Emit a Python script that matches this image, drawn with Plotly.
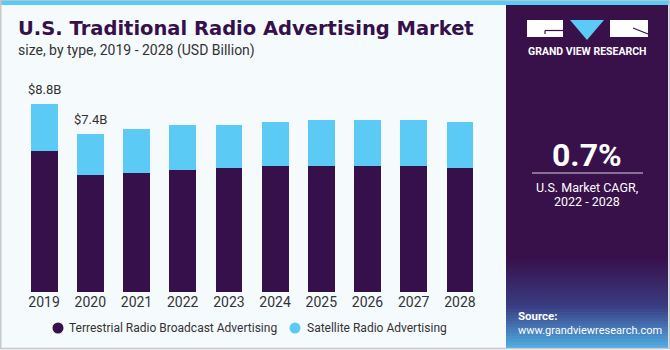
import plotly.graph_objects as go

years = ["2019", "2020", "2021", "2022", "2023", "2024", "2025", "2026", "2027", "2028"]
terrestrial = [6.61, 5.48, 5.57, 5.71, 5.81, 5.90, 5.90, 5.90, 5.90, 5.81]
satellite = [2.19, 1.92, 2.06, 2.11, 2.01, 2.04, 2.14, 2.14, 2.14, 2.13]
series_names = ["Terrestrial Radio Broadcast Advertising", "Satellite Radio Advertising"]
labels = {"2019": "$8.8B", "2020": "$7.4B"}

DARK = "#36104A"
BLUE = "#5BCBF5"
BG = "#F5FAFD"
W, H = 670, 350
L, R = 21, 483
T, B = 78, 292
PW, PH = R - L, B - T
px_per_unit = 21.36

fig = go.Figure()
fig.add_trace(go.Bar(x=years, y=terrestrial, name=series_names[0], marker_color=DARK,
                     marker_line_width=0, showlegend=False))
fig.add_trace(go.Bar(x=years, y=satellite, name=series_names[1], marker_color=BLUE,
                     marker_line_width=0, showlegend=False))

totals = [t + s for t, s in zip(terrestrial, satellite)]
annotations = []
for yr, txt in labels.items():
    i = years.index(yr)
    annotations.append(dict(x=i, y=totals[i], xref="x", yref="y", text=txt, showarrow=False,
                            yanchor="bottom", yshift=5, font=dict(size=13, color="#333333",
                                                                  family="Roboto")))

def px2x(px):
    return (px - L) / PW

def px2y(py):
    return (B - py) / PH

def rect(x0, y0, x1, y1, **kw):
    d = dict(type="rect", xref="paper", yref="paper", x0=px2x(x0), x1=px2x(x1),
             y0=px2y(y1), y1=px2y(y0))
    d.update(kw)
    return d

def line(x0, y0, x1, y1, color, width=1):
    return dict(type="line", xref="paper", yref="paper", x0=px2x(x0), x1=px2x(x1),
                y0=px2y(y0), y1=px2y(y1), line=dict(color=color, width=width), layer="above")

shapes = []
# top stripe
shapes.append(rect(0, 0, W, 5, fillcolor=BLUE, line_width=0, layer="above"))
# right panel with gradient at bottom
panel_x0, panel_x1 = 506, 668
shapes.append(rect(panel_x0, 5, panel_x1, 348, fillcolor="#38104A", line_width=0, layer="below"))
g0, g1 = 255, 348
steps = 31
c_top = (56, 16, 74)
c_mid = (58, 60, 130)
c_bot = (80, 170, 225)
for k in range(steps):
    t = k / (steps - 1)
    if t < 0.55:
        u = t / 0.55
        c = [int(c_top[j] + (c_mid[j] - c_top[j]) * u) for j in range(3)]
    else:
        u = (t - 0.55) / 0.45
        c = [int(c_mid[j] + (c_bot[j] - c_mid[j]) * u) for j in range(3)]
    ya = g0 + (g1 - g0) * k / steps
    yb = g0 + (g1 - g0) * (k + 1) / steps + 0.5
    shapes.append(rect(panel_x0, ya, panel_x1, yb, fillcolor="rgb(%d,%d,%d)" % tuple(c),
                       line_width=0, layer="below"))
# logo
shapes.append(rect(527, 20, 563, 37, fillcolor="white", line_width=0, layer="above"))
shapes.append(rect(610, 20, 648, 37, fillcolor="white", line_width=0, layer="above"))
shapes.append(dict(type="path", xref="paper", yref="paper",
                   path="M %f,%f L %f,%f L %f,%f Z" % (px2x(570), px2y(20), px2x(604), px2y(20),
                                                       px2x(587), px2y(40)),
                   fillcolor=BLUE, line_width=0, layer="above"))
shapes.append(line(545, 30.5, 563, 30.5, DARK, 1.2))
shapes.append(line(545, 30.5, 545, 34, DARK, 1.2))
shapes.append(line(633, 28, 648, 34, DARK, 1.2))
# CAGR separator
shapes.append(line(532, 173, 643, 173, "#D8D0DE", 1.2))
# outer border
shapes.append(rect(0.75, 0, W - 0.75, H - 1.5, line=dict(color="#C8C8C8", width=1.5),
                   fillcolor="rgba(0,0,0,0)", layer="above"))

def ann(x, y, text, size, color, bold=False, family="Roboto", xanchor="center"):
    annotations.append(dict(x=px2x(x), y=px2y(y), xref="paper", yref="paper", text=text,
                            showarrow=False, xanchor=xanchor, yanchor="middle",
                            font=dict(size=size, color=color, family=family,
                                      weight="bold" if bold else "normal")))

# legend (circle markers + labels)
legend_pos = [(58, 67), (295, 305)]
for nm, col, (mx, tx) in zip(series_names, [DARK, BLUE], legend_pos):
    shapes.append(dict(type="circle", xref="paper", yref="paper",
                       x0=px2x(mx - 5.5), x1=px2x(mx + 5.5), y0=px2y(328 + 5.5), y1=px2y(328 - 5.5),
                       fillcolor=col, line_width=0, layer="above"))
    ann(tx, 328, nm, 12, "#333333", xanchor="left")

ann(16, 28, "U.S. Traditional Radio Advertising Market", 19.5, DARK, bold=True,
    family="DejaVu Sans", xanchor="left")
ann(16, 50, "size, by type, 2019 - 2028 (USD Billion)", 14, "#333333", xanchor="left")
ann(587, 51, "GRAND VIEW RESEARCH", 10.5, "white", bold=True)
ann(587, 155, "0.7%", 32, "white", bold=True)
ann(587, 187, "U.S. Market CAGR,", 12.5, "white")
ann(587, 201, "2022 - 2028", 12.5, "white")
ann(516, 316, "Source:", 11.5, "white", bold=True, xanchor="left")
ann(516, 330, "www.grandviewresearch.com", 11, "white", xanchor="left")

fig.update_layout(
    width=W, height=H,
    margin=dict(l=L, r=W - R, t=T, b=H - B, pad=0, autoexpand=False),
    paper_bgcolor=BG, plot_bgcolor="rgba(0,0,0,0)",
    barmode="stack", bargap=0.42, showlegend=False,
    font=dict(family="Roboto", color="#333333"),
    xaxis=dict(type="category", range=[-0.5, len(years) - 0.5], showgrid=False, zeroline=False,
               showline=False, ticks="", tickfont=dict(size=14, color="#333333"), fixedrange=True),
    yaxis=dict(visible=False, range=[0, PH / px_per_unit], fixedrange=True),
    shapes=shapes, annotations=annotations,
)
fig.write_html("out.html")
